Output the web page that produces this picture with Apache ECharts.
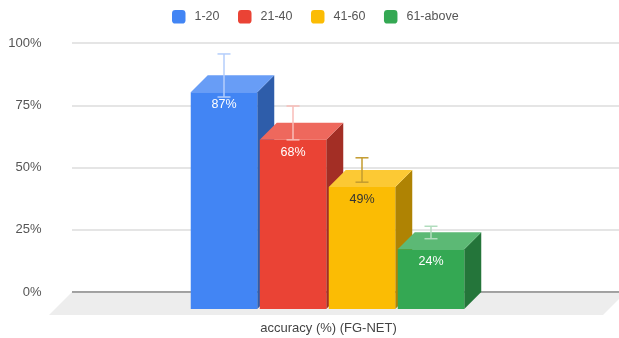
<!DOCTYPE html>
<html>
<head>
<meta charset="utf-8">
<style>html,body{margin:0;padding:0;background:#fff}#chart{width:619px;height:338px}</style>
<script src="https://cdn.jsdelivr.net/npm/echarts@6/dist/echarts.min.js"></script>
</head>
<body>
<div id="chart"></div>
<script>
// Recognition accuracy per age band on FG-NET, with error bars
const category = 'accuracy (%) (FG-NET)';
const ageBands = ['1-20', '21-40', '41-60', '61-above'];
const accuracy = [87, 68, 49, 24];
const errorLow = [78.3, 61.1, 44.1, 21.4];
const errorHigh = [95.6, 74.7, 53.9, 26.4];
const yTicks = [0, 25, 50, 75, 100];

const frontColors = ['#4285F4', '#EA4335', '#FBBC04', '#34A853'];
const topColors = ['#689DF6', '#EE685D', '#FCC934', '#5CB975'];
const sideColors = ['#2E5DAA', '#A32E25', '#AF8303', '#24753A'];
const whiskerColors = ['#B4CEFB', '#F8BDB8', '#C39B2E', '#B0DCBC'];
const labelColors = ['#FFFFFF', '#FFFFFF', '#333333', '#FFFFFF'];

// Oblique projection used for the pseudo-3D boxes and floor
const BAR_DEPTH = 17;
const FLOOR_DEPTH = 23;
const FLOOR_OVERHANG = 7;
const BAR_WIDTH = 66.5;
const BAR_STEP = 69;
const GROUP_SHIFT = -18;

function renderFloor(params, api) {
  const left = api.coord([category, 0]);
  const cs = params.coordSys;
  const y = left[1];
  const xEnd = cs.x + cs.width + FLOOR_OVERHANG;
  return {
    type: 'group',
    children: [
      {
        type: 'polygon',
        shape: { points: [[cs.x, y], [xEnd, y], [xEnd - FLOOR_DEPTH, y + FLOOR_DEPTH], [cs.x - FLOOR_DEPTH, y + FLOOR_DEPTH]] },
        style: { fill: '#EDEDED' }
      },
      {
        type: 'line',
        shape: { x1: cs.x, y1: y, x2: cs.x + cs.width, y2: y },
        style: { stroke: '#8A8A8A', lineWidth: 1.5 }
      }
    ]
  };
}

function makeBoxRenderer(i) {
  return function (params, api) {
    const base = api.coord([category, 0]);
    const top = api.coord([category, accuracy[i]]);
    const hi = api.coord([category, errorHigh[i]]);
    const lo = api.coord([category, errorLow[i]]);
    const cs = params.coordSys;
    const mid = cs.x + cs.width / 2 + GROUP_SHIFT;
    const x0 = mid + (i - 1.5) * BAR_STEP - BAR_WIDTH / 2;
    const x1 = x0 + BAR_WIDTH;
    const cx = (x0 + x1) / 2;
    const d = BAR_DEPTH;
    const yTop = top[1] + d;
    const yBase = base[1] + d;
    const whisker = whiskerColors[i];
    return {
      type: 'group',
      children: [
        { type: 'polygon', shape: { points: [[x1, yTop], [x1 + d, yTop - d], [x1 + d, yBase - d], [x1, yBase]] }, style: { fill: sideColors[i] } },
        { type: 'polygon', shape: { points: [[x0, yTop], [x0 + d, yTop - d], [x1 + d, yTop - d], [x1, yTop]] }, style: { fill: topColors[i] } },
        { type: 'rect', shape: { x: x0, y: yTop, width: BAR_WIDTH, height: yBase - yTop }, style: { fill: frontColors[i] } },
        { type: 'line', shape: { x1: cx, y1: hi[1], x2: cx, y2: lo[1] }, style: { stroke: whisker, lineWidth: 1.5 } },
        { type: 'line', shape: { x1: cx - 6.5, y1: hi[1], x2: cx + 6.5, y2: hi[1] }, style: { stroke: whisker, lineWidth: 1.5 } },
        { type: 'line', shape: { x1: cx - 6.5, y1: lo[1], x2: cx + 6.5, y2: lo[1] }, style: { stroke: whisker, lineWidth: 1.5 } },
        {
          type: 'text',
          style: {
            x: cx, y: yTop + 12.5, text: accuracy[i] + '%',
            fill: labelColors[i], align: 'center', verticalAlign: 'middle',
            font: '12.5px "Liberation Sans", Arial, sans-serif'
          }
        }
      ]
    };
  };
}

const boxSeries = ageBands.map((band, i) => ({
  name: band,
  type: 'custom',
  renderItem: makeBoxRenderer(i),
  data: [[category, accuracy[i]]],
  encode: { x: 0, y: 1 },
  itemStyle: { color: frontColors[i] },
  z: 3 + i,
  clip: false,
  silent: true
}));

const chart = echarts.init(document.getElementById('chart'));
chart.setOption({
  animation: false,
  textStyle: { fontFamily: '"Liberation Sans", Arial, sans-serif' },
  legend: {
    data: ageBands,
    top: 5,
    left: 167,
    itemWidth: 13.5,
    itemHeight: 13.5,
    itemGap: 18.5,
    icon: 'roundRect',
    textStyle: { color: '#555555', fontSize: 12.5, padding: [0, 0, 0, 4] }
  },
  grid: { left: 72, right: 0, top: 43, bottom: 46 },
  xAxis: {
    type: 'category',
    data: [category],
    axisLine: { show: false },
    axisTick: { show: false },
    axisLabel: { color: '#444444', fontSize: 13, margin: 30, padding: [0, 34, 0, 0] }
  },
  yAxis: {
    type: 'value',
    min: 0,
    max: 100,
    interval: 25,
    axisLine: { show: false },
    axisTick: { show: false },
    axisLabel: { color: '#555555', fontSize: 13, margin: 30.5, padding: [4, 0, 0, 0], formatter: v => yTicks.includes(v) ? v + '%' : '' },
    splitLine: { lineStyle: { color: '#DDDDDD', width: 1.5 } }
  },
  series: [
    {
      name: 'floor',
      type: 'custom',
      renderItem: renderFloor,
      data: [[category, 0]],
      encode: { x: 0, y: 1 },
      z: 1,
      clip: false,
      silent: true
    }
  ].concat(boxSeries)
});
</script>
</body>
</html>
